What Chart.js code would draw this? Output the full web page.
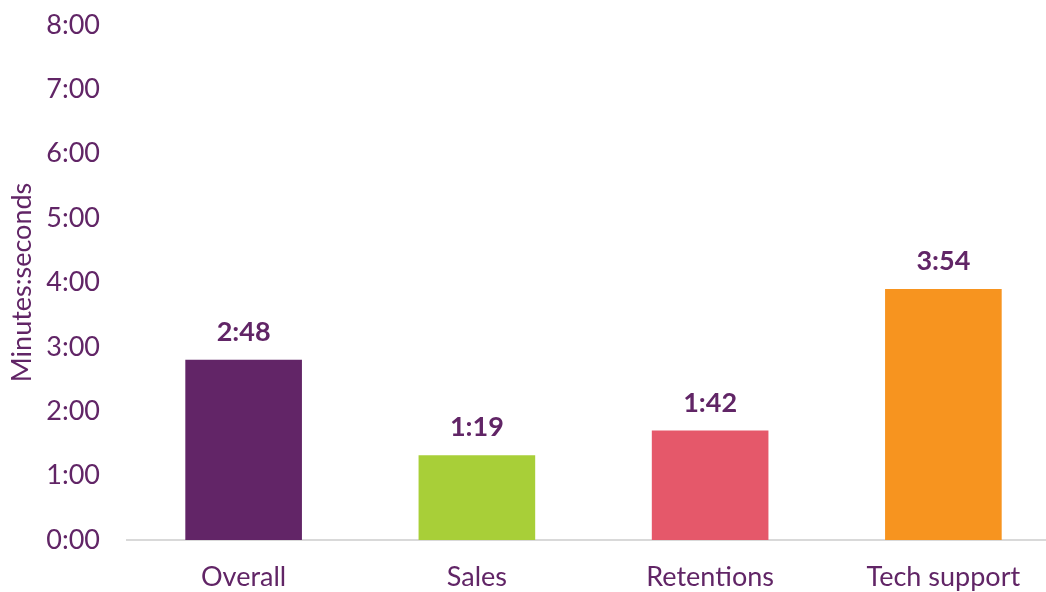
<!DOCTYPE html>
<html>
<head>
<meta charset="utf-8">
<script src="https://cdn.jsdelivr.net/npm/chart.js@4/dist/chart.umd.min.js"></script>
<style>
  html, body { margin: 0; padding: 0; overflow: hidden; background: #fff; }
  #wrap { width: 1060px; height: 592px; position: relative; }
</style>
</head>
<body>
<div id="wrap"><canvas id="chart"></canvas></div>
<script>
// values in seconds
var categories = ['Overall', 'Sales', 'Retentions', 'Tech support'];
var durations = [168, 79, 102, 234];
var barColors = ['#622567', '#A8CF38', '#E5586A', '#F7941F'];
var tickStep = 60;
var tickMax = 480;

var textColor = '#612566';
var fontFamily = 'Lato, "Open Sans", sans-serif';

function fmt(sec) {
    var m = Math.floor(sec / 60);
    var s = Math.round(sec % 60);
    return m + ':' + (s < 10 ? '0' : '') + s;
}

var valueLabels = {
    id: 'valueLabels',
    afterDatasetsDraw: function(chart) {
        var ctx = chart.ctx;
        var meta = chart.getDatasetMeta(0);
        ctx.save();
        ctx.fillStyle = textColor;
        ctx.font = 'bold 27px ' + fontFamily;
        ctx.textAlign = 'center';
        ctx.textBaseline = 'alphabetic';
        meta.data.forEach(function(bar, i) {
            ctx.fillText(fmt(durations[i]), bar.x, bar.y - 19);
        });
        ctx.restore();
    }
};

var chart = new Chart(document.getElementById('chart'), {
    type: 'bar',
    data: {
        labels: categories,
        datasets: [{
            data: durations,
            backgroundColor: barColors,
            categoryPercentage: 1,
            barPercentage: 0.5
        }]
    },
    options: {
        responsive: true,
        maintainAspectRatio: false,
        animation: false,
        layout: { padding: { top: 25, left: 0, right: 0, bottom: 0 } },
        plugins: {
            legend: { display: false },
            tooltip: { enabled: false }
        },
        scales: {
            x: {
                grid: { display: false, drawTicks: false },
                border: { display: true, color: '#D9D9D9', width: 2 },
                ticks: {
                    color: textColor,
                    font: { family: fontFamily, size: 27 },
                    padding: 21
                },
                afterFit: function(axis) {
                    axis.height = 52;
                    axis.paddingLeft = 0;
                    axis.paddingRight = 0;
                }
            },
            y: {
                min: 0,
                max: tickMax,
                grid: { display: false, drawTicks: false },
                border: { display: false },
                ticks: {
                    stepSize: tickStep,
                    color: textColor,
                    font: { family: fontFamily, size: 27 },
                    padding: 27,
                    callback: function(v) { return fmt(v); }
                },
                title: {
                    display: true,
                    text: 'Minutes:seconds',
                    color: textColor,
                    font: { family: fontFamily, size: 27 },
                    padding: { top: 6, bottom: 0 }
                },
                afterFit: function(axis) {
                    axis.width = 127;
                    axis.paddingTop = 0;
                    axis.paddingBottom = 0;
                }
            }
        }
    },
    plugins: [valueLabels]
});
</script>
</body>
</html>
